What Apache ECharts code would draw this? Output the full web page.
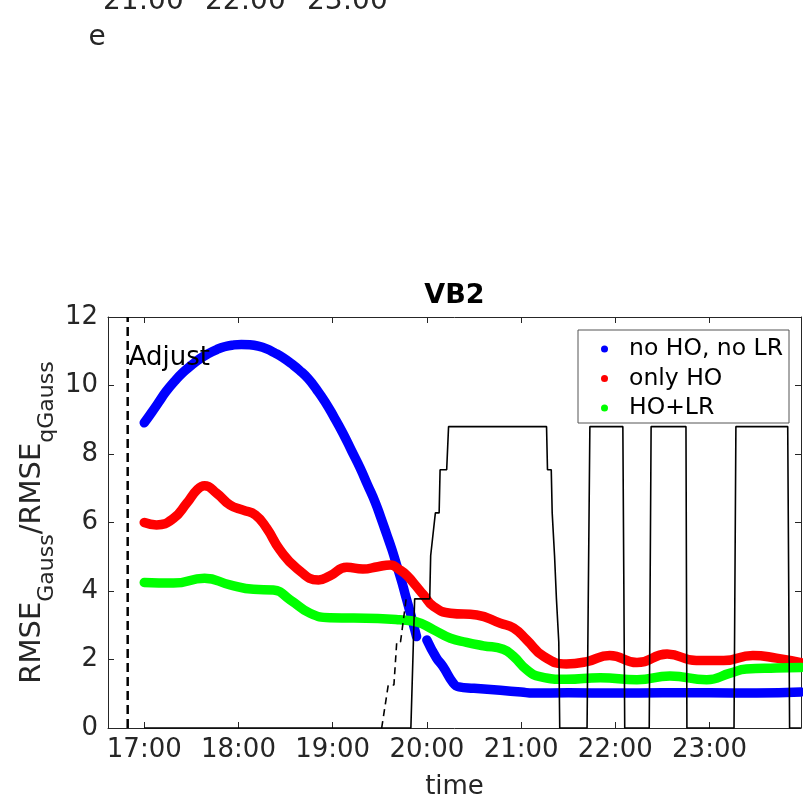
<!DOCTYPE html>
<html><head><meta charset="utf-8">
<script src="https://cdn.jsdelivr.net/npm/echarts@6/dist/echarts.min.js"></script>
<style>html,body{margin:0;padding:0;background:#fff;overflow:hidden}#c{width:803px;height:801px}</style>
</head><body><div id="c"></div>
<script>
// ---- data (time in decimal hours) ----
const xTicks = [17, 18, 19, 20, 21, 22, 23];
const yTicks = [0, 2, 4, 6, 8, 10, 12];
const seriesNames = ['no HO, no LR', 'only HO', 'HO+LR'];

const blueT = [17.0, 17.08, 17.15, 17.23, 17.32, 17.41, 17.5, 17.59, 17.68, 17.77, 17.85, 17.94, 18.03, 18.12, 18.21, 18.3, 18.38, 18.47, 18.56, 18.65, 18.74, 18.83, 18.92, 19.01, 19.11, 19.2, 19.29, 19.37, 19.45, 19.51, 19.57, 19.63, 19.68, 19.73, 19.77, 19.81, 19.84, 19.89, 19.95, 20.0, 20.1, 20.17, 20.28, 20.34, 20.5, 20.78, 21.0, 21.13, 21.5, 22.0, 22.5, 23.0, 23.5, 23.97];
const blueV = [8.91, 9.22, 9.5, 9.82, 10.12, 10.38, 10.59, 10.78, 10.93, 11.05, 11.13, 11.18, 11.2, 11.19, 11.15, 11.07, 10.96, 10.82, 10.64, 10.44, 10.2, 9.88, 9.52, 9.1, 8.6, 8.1, 7.6, 7.1, 6.6, 6.15, 5.68, 5.2, 4.75, 4.3, 3.9, 3.5, 3.2, 2.67, null, 2.57, 2.05, 1.8, 1.31, 1.2, 1.16, 1.1, 1.05, 1.02, 1.03, 1.02, 1.03, 1.03, 1.02, 1.05];

const redT = [17.0, 17.13, 17.31, 17.45, 17.56, 17.64, 17.77, 17.91, 18.05, 18.18, 18.3, 18.44, 18.62, 18.85, 18.97, 19.15, 19.32, 19.48, 19.61, 19.71, 19.79, 19.89, 19.96, 20.07, 20.25, 20.53, 20.78, 20.92, 21.06, 21.24, 21.48, 21.7, 21.94, 22.23, 22.55, 22.86, 23.15, 23.46, 23.71, 23.97];
const redV = [6.0, 5.93, 6.12, 6.56, 6.95, 7.07, 6.85, 6.51, 6.36, 6.22, 5.83, 5.2, 4.66, 4.32, 4.44, 4.69, 4.64, 4.71, 4.76, 4.62, 4.45, 4.13, 3.9, 3.55, 3.35, 3.3, 3.06, 2.92, 2.57, 2.09, 1.87, 1.94, 2.12, 1.91, 2.16, 1.97, 1.97, 2.12, 2.04, 1.91];

const greenT = [17.0, 17.31, 17.64, 17.91, 18.16, 18.37, 18.55, 18.76, 18.97, 19.48, 19.71, 19.89, 20.07, 20.25, 20.42, 20.6, 20.81, 20.92, 21.06, 21.2, 21.48, 21.84, 22.23, 22.58, 22.97, 23.22, 23.39, 23.71, 23.97];
const greenV = [4.25, 4.23, 4.37, 4.18, 4.05, 4.03, 3.74, 3.35, 3.22, 3.2, 3.16, 3.1, 2.87, 2.62, 2.5, 2.4, 2.3, 2.09, 1.7, 1.5, 1.42, 1.47, 1.41, 1.52, 1.41, 1.6, 1.72, 1.75, 1.77];

const stepT = [17.0, 19.83, 19.87, 20.03, 20.04, 20.06, 20.09, 20.13, 20.14, 20.21, 20.23, 21.27, 21.28, 21.32, 21.33, 21.345, 21.355, 21.365, 21.375, 21.39, 21.4, 21.405, 21.41, 21.7, 21.73, 22.08, 22.1, 22.36, 22.38, 22.75, 22.76, 23.26, 23.28, 23.83, 23.85, 23.97];
const stepV = [0, 0, 3.77, 3.77, 5.03, 5.03, 6.28, 6.28, 7.54, 7.54, 8.8, 8.8, 7.54, 7.54, 6.28, 6.28, 5.03, 5.03, 3.77, 3.77, 2.51, 2.51, 0, 0, 8.8, 8.8, 0, 0, 8.8, 8.8, 0, 0, 8.8, 8.8, 0, 0];

const dashT = [19.52, 19.59, 19.65, 19.68, 19.72, 19.78, 19.83];
const dashV = [0, 1.257, 1.257, 2.514, 2.514, 3.77, 3.77];

const adjustT = [16.824, 16.824];
const adjustV = [0, 12];
const adjustLabel = 'Adjust';
const adjustLabelAt = [16.824, 10.8];

const xMin = 16.615, xMax = 23.971;

// ---- build ----
const zip = (t, v) => t.map((x, i) => [x, v[i]]);
const FONT = 'DejaVu Sans';
const AX = '#262626';
const fmt = v => Math.round(v) + ':00';

const chart = echarts.init(document.getElementById('c'), null, {renderer: 'canvas'});

const colored = (name, t, v, color) => ({
  name, type: 'line', data: zip(t, v), showSymbol: false, symbol: 'none',
  smooth: 0.5, connectNulls: false,
  itemStyle: {color},
  lineStyle: {color, width: 9.5, cap: 'round', join: 'round'},
  emphasis: {disabled: true}, silent: true
});

const option = {
  animation: false,
  backgroundColor: '#fff',
  grid: {left: 108, right: 2, top: 317, bottom: 73, containLabel: false, outerBoundsMode: 'none'},
  xAxis: [{
    type: 'value', min: xMin, max: xMax, position: 'bottom',
    axisLine: {show: true, lineStyle: {color: AX, width: 1}},
    axisTick: {show: true, inside: true, length: 6, customValues: xTicks, lineStyle: {color: AX}},
    axisLabel: {customValues: xTicks, formatter: fmt, fontSize: 26, color: AX, fontFamily: FONT, margin: 9},
    splitLine: {show: false},
    name: 'time', nameLocation: 'middle', nameGap: 46, nameMoveOverlap: false,
    nameTextStyle: {fontSize: 26, color: AX, fontFamily: FONT}
  }, {
    type: 'value', min: xMin, max: xMax, position: 'top',
    axisLine: {show: true, onZero: false, lineStyle: {color: AX, width: 1}},
    axisTick: {show: true, inside: true, length: 6, customValues: xTicks, lineStyle: {color: AX}},
    axisLabel: {show: false}, splitLine: {show: false}
  }],
  yAxis: [{
    type: 'value', min: 0, max: 12, interval: 2, position: 'left',
    axisLine: {show: true, lineStyle: {color: AX, width: 1}},
    axisTick: {show: true, inside: true, length: 6, lineStyle: {color: AX}},
    axisLabel: {fontSize: 26, color: AX, fontFamily: FONT, margin: 10},
    splitLine: {show: false},
    name: '{a|RMSE}{s|Gauss}{a|/RMSE}{s|qGauss}',
    nameLocation: 'middle', nameRotate: 90, nameGap: 50, nameMoveOverlap: false,
    nameTextStyle: {
      color: AX, fontFamily: FONT,
      rich: {
        a: {fontSize: 29, color: AX, fontFamily: FONT},
        s: {fontSize: 22, color: AX, fontFamily: FONT, padding: [30, 0, 0, 0]}
      }
    }
  }, {
    type: 'value', min: 0, max: 12, interval: 2, position: 'right',
    axisLine: {show: true, onZero: false, lineStyle: {color: AX, width: 1}},
    axisTick: {show: true, inside: true, length: 6, lineStyle: {color: AX}},
    axisLabel: {show: false}, splitLine: {show: false}
  }],
  legend: {
    orient: 'vertical', left: 578, top: 330,
    padding: [7, 6, 3, 23], itemGap: 5.5, itemWidth: 39, itemHeight: 7,
    icon: 'circle', data: seriesNames,
    textStyle: {fontSize: 23.5, color: '#000', fontFamily: FONT},
    borderColor: '#555', borderWidth: 1, backgroundColor: '#fff',
    selectedMode: false
  },
  series: [
    colored(seriesNames[0], blueT, blueV, '#0000ff'),
    colored(seriesNames[1], redT, redV, '#ff0000'),
    colored(seriesNames[2], greenT, greenV, '#00ff00'),
    {type: 'line', data: zip(stepT, stepV), showSymbol: false, symbol: 'none',
     lineStyle: {color: '#000', width: 1.6}, silent: true, z: 3},
    {type: 'line', data: zip(dashT, dashV), showSymbol: false, symbol: 'none',
     lineStyle: {color: '#000', width: 1.6, type: [7, 5]}, silent: true, z: 3},
    {type: 'line', data: zip(adjustT, adjustV), showSymbol: false, symbol: 'none',
     lineStyle: {color: '#000', width: 2.5, type: [9, 5]}, silent: true, z: 3}
  ]
};
chart.setOption(option);

const lp = chart.convertToPixel({gridIndex: 0}, adjustLabelAt);
const plotLeft = chart.convertToPixel({xAxisIndex: 0}, xMin);
const plotRight = chart.convertToPixel({xAxisIndex: 0}, xMax);
const plotTop = chart.convertToPixel({yAxisIndex: 0}, 12);

chart.setOption({
  graphic: [
    {type: 'text', x: lp[0] + 1, y: lp[1],
     style: {text: adjustLabel, fontSize: 26, fontFamily: FONT, fill: '#000', align: 'left', verticalAlign: 'middle'}, z: 10},
    {type: 'text', x: (plotLeft + plotRight) / 2, y: plotTop - 21,
     style: {text: 'VB2', fontSize: 27, fontWeight: 'bold', fontFamily: FONT, fill: '#000', align: 'center', verticalAlign: 'middle'}, z: 10},
    // fragments of the panel above (cut off at the top edge)
    {type: 'text', x: 103, y: 16,
     style: {text: '21:00', fontSize: 28, fontFamily: FONT, fill: AX, align: 'left', verticalAlign: 'bottom'}},
    {type: 'text', x: 205, y: 16,
     style: {text: '22:00', fontSize: 28, fontFamily: FONT, fill: AX, align: 'left', verticalAlign: 'bottom'}},
    {type: 'text', x: 307, y: 16,
     style: {text: '23:00', fontSize: 28, fontFamily: FONT, fill: AX, align: 'left', verticalAlign: 'bottom'}},
    {type: 'text', x: 97, y: 38,
     style: {text: 'e', fontSize: 28, fontFamily: FONT, fill: AX, align: 'center', verticalAlign: 'middle'}}
  ]
});
</script></body></html>
